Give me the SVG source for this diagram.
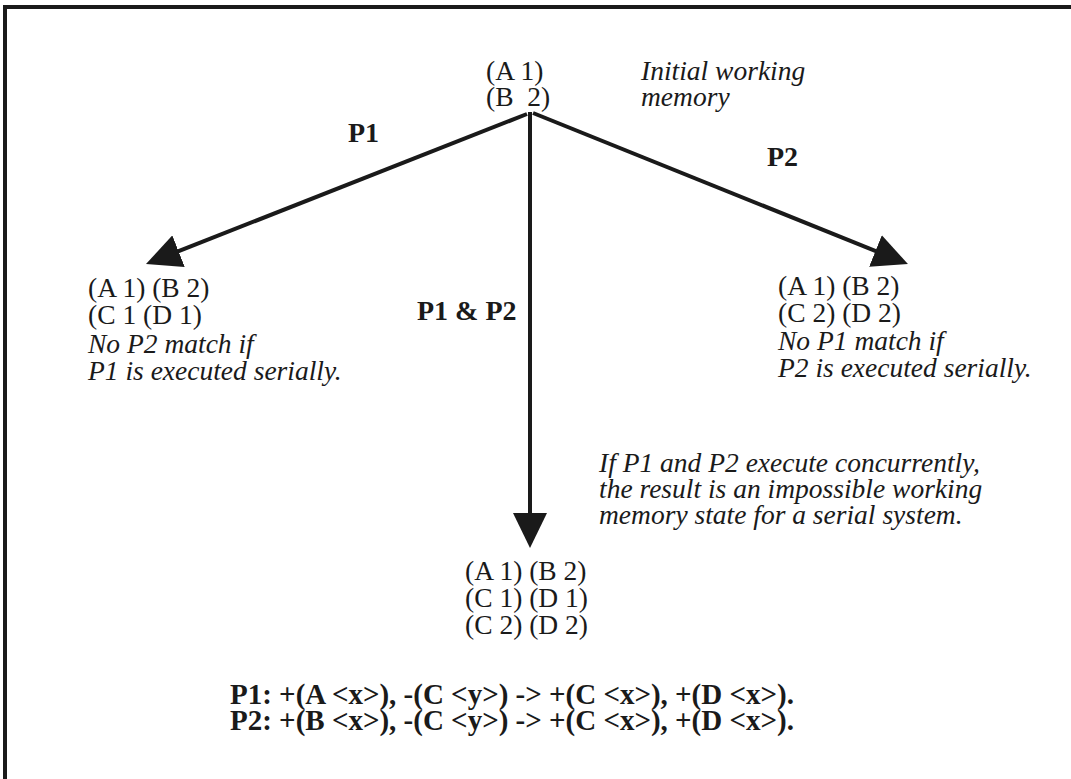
<svg xmlns="http://www.w3.org/2000/svg" width="1071" height="779" viewBox="0 0 1071 779">
<style>
  text { font-family: "Liberation Serif", "Times New Roman", serif; fill: #1a1a1a; }
  .n { font-size: 27.5px; }
  .i { font-size: 27.5px; font-style: italic; }
  .b { font-size: 28px; font-weight: bold; }
  .f { font-size: 29px; font-weight: bold; }
  .edge { stroke: #1a1a1a; stroke-width: 4; fill: none; }
</style>
<defs>
  <marker id="ah" viewBox="0 0 35 34" refX="15" refY="17" markerWidth="35" markerHeight="34" markerUnits="userSpaceOnUse" orient="auto">
    <path d="M0,0 L35,17 L0,34 z" fill="#1a1a1a"/>
  </marker>
</defs>
<rect width="1071" height="779" fill="#fff"/>
<path d="M5,779 V7 H1071" fill="none" stroke="#1a1a1a" stroke-width="4"/>
<g id="connectors">
  <line class="edge" x1="527" y1="114" x2="164.6" y2="256.7" marker-end="url(#ah)"/>
  <line class="edge" x1="533" y1="113" x2="889.4" y2="256.6" marker-end="url(#ah)"/>
  <line class="edge" x1="530" y1="112" x2="530" y2="528" marker-end="url(#ah)"/>
  <text class="b" x="348" y="142">P1</text>
  <text class="b" x="767" y="166">P2</text>
  <text class="b" x="417" y="320">P1 &amp; P2</text>
</g>
<g id="initial">
  <text class="n" x="486" y="80">(A 1)</text>
  <text class="n" x="486" y="106" xml:space="preserve">(B  2)</text>
  <text class="i" x="641" y="80">Initial working</text>
  <text class="i" x="641" y="106">memory</text>
</g>
<g id="p1-result">
  <text class="n" x="88" y="297">(A 1) (B 2)</text>
  <text class="n" x="88" y="324">(C 1 (D 1)</text>
  <text class="i" x="88" y="353">No P2 match if</text>
  <text class="i" x="88" y="380">P1 is executed serially.</text>
</g>
<g id="p2-result">
  <text class="n" x="778" y="295">(A 1) (B 2)</text>
  <text class="n" x="778" y="322">(C 2) (D 2)</text>
  <text class="i" x="778" y="350">No P1 match if</text>
  <text class="i" x="778" y="377">P2 is executed serially.</text>
</g>
<g id="concurrent-note">
  <text class="i" x="599" y="472">If P1 and P2 execute concurrently,</text>
  <text class="i" x="599" y="498">the result is an impossible working</text>
  <text class="i" x="599" y="524">memory state for a serial system.</text>
</g>
<g id="concurrent-result">
  <text class="n" x="465" y="580">(A 1) (B 2)</text>
  <text class="n" x="465" y="607">(C 1) (D 1)</text>
  <text class="n" x="465" y="634">(C 2) (D 2)</text>
</g>
<g id="rules">
  <text class="f" x="230" y="704">P1: +(A &lt;x&gt;), -(C &lt;y&gt;) -&gt; +(C &lt;x&gt;), +(D &lt;x&gt;).</text>
  <text class="f" x="230" y="730">P2: +(B &lt;x&gt;), -(C &lt;y&gt;) -&gt; +(C &lt;x&gt;), +(D &lt;x&gt;).</text>
</g>
</svg>
